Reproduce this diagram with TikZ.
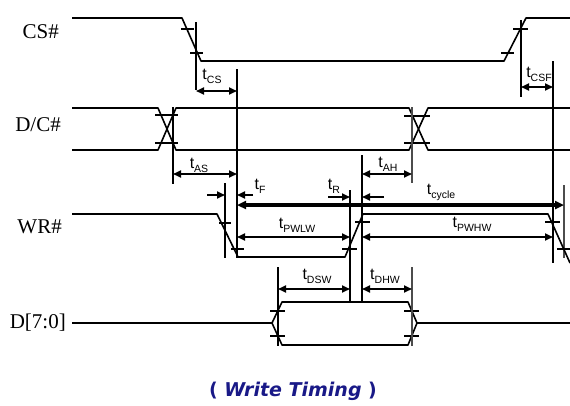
\documentclass[tikz,border=0pt]{standalone}
\usepackage{fontspec}
\setmainfont{Liberation Serif}
\setsansfont{Liberation Sans}
\newfontfamily\capfont{DejaVu Sans}
\usepackage{tikz}
\usetikzlibrary{arrows.meta}
\definecolor{capblue}{RGB}{25,25,135}
\tikzstyle{sig} = [line width=1.6pt, line join=round]
\tikzstyle{refline} = [line width=1.8pt]
\tikzstyle{thinref} = [line width=1.2pt, black!70]
\tikzstyle{tick} = [line width=1.6pt]
\tikzstyle{dim} = [line width=1.8pt, {Triangle[length=8pt,width=7pt]}-{Triangle[length=8pt,width=7pt]}]
\tikzstyle{bigdim} = [line width=3.4pt, {Triangle[length=9pt,width=8pt]}-{Triangle[length=9pt,width=8pt]}]
\tikzstyle{into} = [line width=1.8pt, -{Triangle[length=8pt,width=7pt]}]
\tikzstyle{signame} = [font=\fontsize{21}{24}\selectfont, anchor=east, inner sep=0pt]
\tikzstyle{tlab} = [font=\sffamily\fontsize{16}{18}\selectfont, inner sep=0pt]
\newcommand{\tsub}[1]{t\raisebox{-4pt}{\fontsize{10.5}{12}\selectfont #1}}

\begin{document}
\begin{tikzpicture}[x=1pt, y=-1pt]
\useasboundingbox (0,0) rectangle (570,405);

% CS#
\node[signame] (cs) at (59,32) {CS\#};
\draw[sig] (72,18) -- (182,18) -- (201,61) -- (504,61) -- (526,18) -- (570,18);
\draw[tick] (181,29) -- (194,29);
\draw[tick] (190,53) -- (203,53);
\draw[tick] (501,53) -- (514,53);
\draw[tick] (513,29) -- (528,29);
\draw[refline] (196,22) -- (196,90);
\draw[refline] (521,20) -- (521,97);
\draw[dim] (196,91) -- (237,91);
\draw[dim] (521,87) -- (553,87);
\node[tlab] (tcs) at (212,76) {\tsub{CS}};
\node[tlab] (tcsf) at (539,74) {\tsub{CSF}};

% D/C#
\node[signame] (dc) at (61,125) {D/C\#};
\draw[sig] (72,108) -- (158,108) -- (176,150) -- (409,150) -- (428,108) -- (570,108);
\draw[sig] (72,150) -- (158,150) -- (176,108) -- (409,108) -- (428,150) -- (570,150);
\draw[tick] (155,115) -- (178,115);
\draw[tick] (155,143) -- (178,143);
\draw[tick] (404,116) -- (430,116);
\draw[tick] (404,143) -- (430,143);
\draw[refline] (173,107) -- (173,184);
\draw[thinref] (412,107) -- (412,183);
\draw[dim] (173,174) -- (237,174);
\draw[dim] (362,174) -- (412,174);
\node[tlab] (tas) at (199,165) {\tsub{AS}};
\node[tlab] (tah) at (388,164) {\tsub{AH}};

% long reference lines
\draw[refline] (237,69) -- (237,258);
\draw[refline] (553,61) -- (553,263);
\draw[refline] (362,155) -- (362,302);
\draw[refline] (350,190) -- (350,302);
\draw[refline] (225,183) -- (225,258);
\draw[thinref] (564,185) -- (564,258);

% WR#
\node[signame] (wr) at (62,227) {WR\#};
\draw[sig] (72,214) -- (217,214) -- (238,257) -- (345,257) -- (363,214) -- (548,214) -- (570,263);
\draw[tick] (219,223) -- (231,223);
\draw[tick] (231,249) -- (244,249);
\draw[tick] (342,249) -- (357,249);
\draw[tick] (355,222) -- (370,222);
\draw[tick] (545,222) -- (560,222);
\draw[tick] (557,249) -- (570,249);
\draw[into] (207,195) -- (225,195);
\draw[into] (253,195) -- (237,195);
\draw[into] (328,197) -- (350,197);
\draw[into] (384,197) -- (362,197);
\draw[bigdim] (237,205) -- (564,205);
\draw[dim] (237,237) -- (350,237);
\draw[dim] (362,237) -- (553,237);
\node[tlab] (tf) at (260,186) {\tsub{F}};
\node[tlab] (tr) at (334,186) {\tsub{R}};
\node[tlab] (tcyc) at (441,192) {\tsub{cycle}};
\node[tlab] (tpwlw) at (297,225) {\tsub{PWLW}};
\node[tlab] (tpwhw) at (472,224) {\tsub{PWHW}};

% D[7:0]
\node[signame] (data) at (66,323) {D[7:0]};
\draw[sig] (72,323) -- (272,323);
\draw[sig] (272,323) -- (282,302) -- (408,302) -- (417,323) -- (408,345) -- (282,345) -- cycle;
\draw[sig] (417,323) -- (570,323);
\draw[tick] (270,311) -- (285,311);
\draw[tick] (270,336) -- (285,336);
\draw[tick] (404,311) -- (419,311);
\draw[tick] (404,336) -- (419,336);
\draw[refline] (278,267) -- (278,346);
\draw[thinref] (412,267) -- (412,346);
\draw[dim] (278,289) -- (350,289);
\draw[dim] (362,289) -- (412,289);
\node[tlab] (tdsw) at (317,276) {\tsub{DSW}};
\node[tlab] (tdhw) at (385,276) {\tsub{DHW}};

% caption
\node[font=\capfont\bfseries\fontsize{19}{22}\selectfont, text=capblue] (cap) at (293,391) {( \textit{Write Timing} )};
\end{tikzpicture}
\end{document}
